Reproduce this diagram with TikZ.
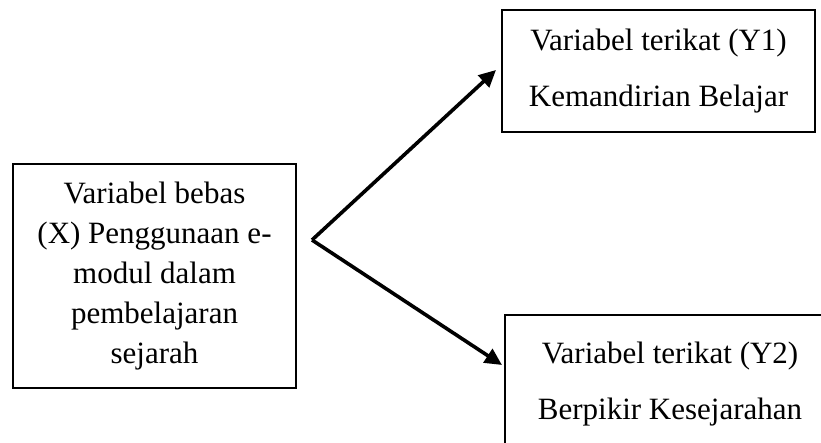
\documentclass[tikz,border=0pt]{standalone}
\usepackage{fontspec}
\setmainfont{Liberation Serif}
\usetikzlibrary{arrows.meta}
\begin{document}
\begin{tikzpicture}[x=1pt,y=1pt,
  box/.style={draw, line width=2.2pt, inner sep=0pt, align=center},
  bigtext/.style={font=\fontsize{31}{40}\selectfont},
  pairtext/.style={font=\fontsize{31}{56}\selectfont},
  link/.style={line width=3.6pt, -{Triangle[length=17pt,width=16pt]}}]
\useasboundingbox (0,0) rectangle (821,-443);
\node[box, bigtext, minimum width=283, minimum height=224] (x) at (154.5,-276)
  {Variabel bebas\\(X) Penggunaan e-\\modul dalam\\pembelajaran\\sejarah};
\node[box, pairtext, minimum width=313, minimum height=122] (y1) at (658.5,-71)
  {Variabel terikat (Y1)\\Kemandirian Belajar};
\begin{scope}
  \clip (0,0) rectangle (821,-443);
  \node[box, pairtext, minimum width=330, minimum height=138] (y2) at (670,-384)
    {Variabel terikat (Y2)\\Berpikir Kesejarahan};
\end{scope}
\coordinate (o) at (312,-240);
\coordinate (t1) at (496,-70);
\coordinate (t2) at (502,-365);
\draw[link] (o) -- (t1);
\draw[link] (o) -- (t2);
\end{tikzpicture}
\end{document}
